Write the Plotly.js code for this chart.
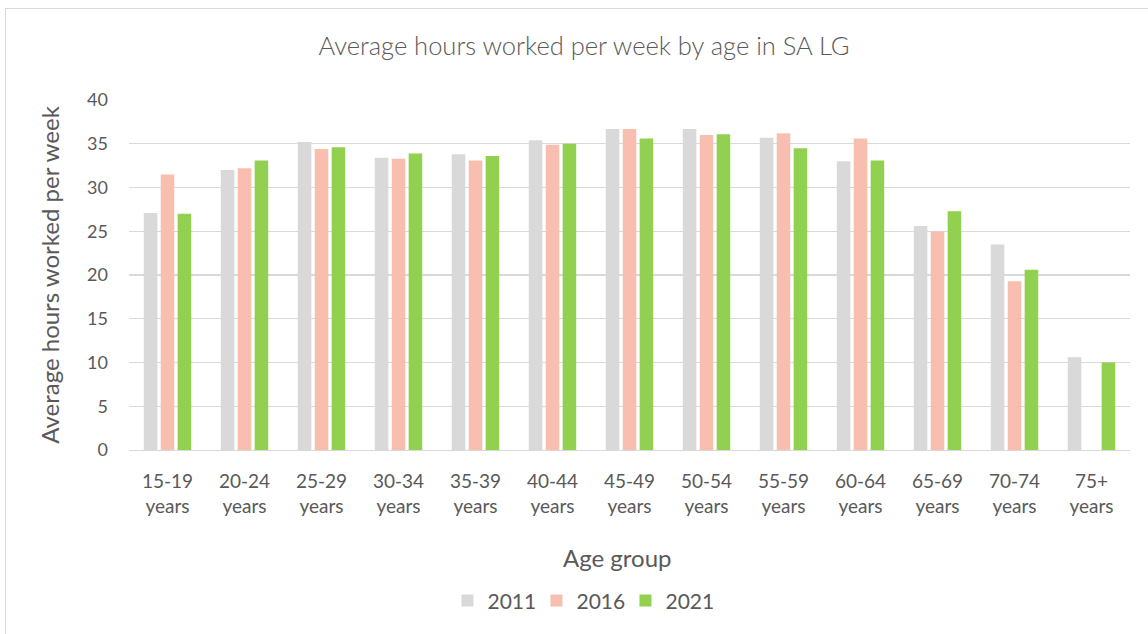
<!DOCTYPE html>
<html>
<head>
<meta charset="utf-8">
<script src="https://cdn.plot.ly/plotly-3.0.1.min.js"></script>
<style>
  html, body { margin: 0; padding: 0; background: #fff; overflow: hidden; }
  #chart { position: absolute; left: 0; top: 0; width: 1148px; height: 634px; }
  #frame { position: absolute; left: 5px; top: 8px; width: 1160px; height: 640px;
           border: 1px solid #d9d9d9; pointer-events: none; }
</style>
</head>
<body>
<div id="chart"></div>
<div id="frame"></div>
<script>
const categories = ["15-19<br>years", "20-24<br>years", "25-29<br>years", "30-34<br>years",
  "35-39<br>years", "40-44<br>years", "45-49<br>years", "50-54<br>years", "55-59<br>years",
  "60-64<br>years", "65-69<br>years", "70-74<br>years", "75+<br>years"];
const values2011 = [27.1, 32.0, 35.2, 33.4, 33.8, 35.4, 36.7, 36.7, 35.7, 33.0, 25.6, 23.5, 10.6];
const values2016 = [31.5, 32.2, 34.4, 33.3, 33.1, 34.9, 36.7, 36.0, 36.2, 35.6, 25.0, 19.3, null];
const values2021 = [27.0, 33.1, 34.6, 33.9, 33.6, 35.0, 35.6, 36.1, 34.5, 33.1, 27.3, 20.6, 10.0];
const yTicks = [0, 5, 10, 15, 20, 25, 30, 35, 40];

const fontFamily = "Lato, 'Open Sans', sans-serif";
const textColor = "#595959";

const traces = [
  { name: "2011", y: values2011, color: "#d9d9d9" },
  { name: "2016", y: values2016, color: "#f8bfb1" },
  { name: "2021", y: values2021, color: "#92d050" }
].map(s => ({
  type: "bar", name: s.name, x: categories, y: s.y,
  marker: { color: s.color }, hoverinfo: "x+y+name"
}));

const layout = {
  width: 1148, height: 634,
  margin: { l: 129, r: 18, t: 100, b: 184 },
  paper_bgcolor: "rgba(0,0,0,0)", plot_bgcolor: "rgba(0,0,0,0)",
  font: { family: fontFamily, color: textColor, size: 18 },
  title: { text: "Average hours worked per week by age in SA LG",
           font: { family: fontFamily, size: 25.5, color: textColor, weight: 300 },
           xref: "paper", x: 0.4545, xanchor: "center", y: 0.927, yanchor: "middle" },
  barmode: "group", bargap: 0.34, bargroupgap: 0.2,
  xaxis: {
    tickfont: { size: 19, color: textColor }, ticklabelstandoff: 14,
    showline: true, linecolor: "#d9d9d9", linewidth: 1, ticks: "", showgrid: false
  },
  yaxis: {
    title: { text: "Average hours worked per week", font: { size: 24, color: textColor }, standoff: 20 },
    range: [0, 40], tickvals: yTicks, ticktext: yTicks.map(String),
    tickfont: { size: 18, color: textColor }, ticklabelstandoff: 20,
    showgrid: true, gridcolor: "#d9d9d9", gridwidth: 1.2, zeroline: false,
    ticks: "", ticklen: 0, showline: false
  },
  annotations: [{
    text: "Age group", xref: "paper", yref: "paper", x: 0.4885, y: -0.306,
    xanchor: "center", yanchor: "middle", showarrow: false,
    font: { size: 24, color: textColor }
  }],
  legend: { orientation: "h", x: 0.4515, xanchor: "center", y: -0.431, yanchor: "middle",
            font: { size: 21, color: textColor }, itemwidth: 30, entrywidth: 44,
            entrywidthmode: "pixels", traceorder: "normal" },
  showlegend: true
};

Plotly.newPlot("chart", traces, layout, { displayModeBar: false, staticPlot: true });
</script>
</body>
</html>
